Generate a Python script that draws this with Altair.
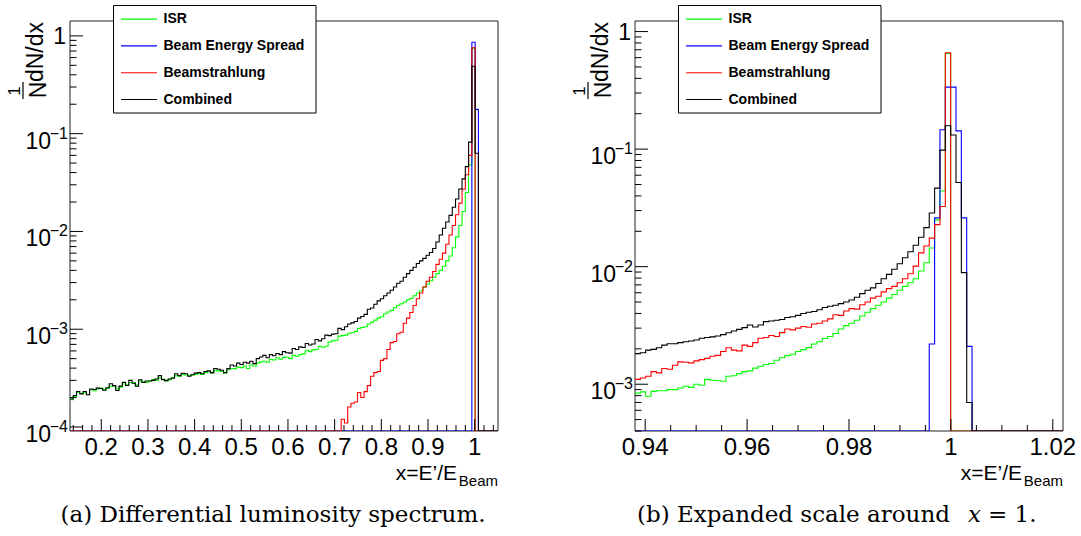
import altair as alt
import pandas as pd

SANS = "Liberation Sans, Arial, Helvetica, sans-serif"
SERIF = "DejaVu Serif"

SERIES = ["ISR", "Beam Energy Spread", "Beamstrahlung", "Combined"]
COLORS = ["#00ff00", "#0000ff", "#ff0000", "#000000"]

# ---------------- Panel (a): bins of width 0.007 from x = 0.133 to 1.05 ----------------
A_X0, A_BW, A_NB = 0.133, 0.007, 131
A_UNIT = 1e-4          # listed values are (1/N) dN per bin, in units of 1e-4
A_XDOM = [0.133, 1.05]
A_YDOM = [0.91e-4, 1.42]

a_isr = [
    1.9, 2.05, 2.25, 2.2, 2.25, 2.15, 2.4, 2.35, 2.45, 2.5,
    2.4, 2.48, 2.6, 2.62, 2.45, 2.55, 2.75, 2.7, 2.85, 2.85,
    2.7, 2.95, 2.9, 2.85, 2.95, 3.05, 3.0, 3.2, 3.1, 2.95,
    3.05, 3.2, 3.35, 3.3, 3.45, 3.4, 3.35, 3.4, 3.45, 3.5,
    3.45, 3.6, 3.65, 3.55, 3.8, 3.75, 3.7, 3.55, 3.85, 3.97,
    3.95, 4.1, 4.05, 4.2, 3.97, 4.3, 4.2, 4.5, 4.64, 4.7,
    4.6, 4.9, 4.85, 5.1, 4.95, 5.15, 5.2, 5.0, 5.4, 5.3,
    5.5, 5.6, 6.1, 5.9, 6.15, 6.2, 6.7, 6.55, 6.7, 7.4,
    7.6, 7.7, 8.5, 8.6, 8.7, 9.1, 9.2, 9.5, 10.2, 10.4,
    10.6, 11.3, 11.8, 12.4, 13.0, 13.4, 14.4, 15.0, 15.6, 16.6,
    17.6, 18.2, 19.0, 20.0, 20.6, 22.0, 23.5, 24.7, 27.0, 29.0,
    31.3, 34.0, 37.0, 40.0, 44.0, 50.0, 56.0, 68.0, 88.0, 115,
    160, 250, 480, 7500, 0,
]
a_bes_start = 123
a_bes = [8600, 1770]
a_bs_start = 83
a_bs = [
    1.2, 1.1, 1.6, 1.75, 1.8, 2.25, 2.0, 2.3, 2.65, 3.3,
    3.6, 3.7, 4.8, 5.0, 6.2, 7.3, 7.5, 9.0, 9.3, 11.5,
    13.0, 14.8, 17.5, 20.5, 23.5, 27, 31, 34, 39, 46,
    52, 60, 74, 92, 115, 148, 195, 270, 380, 600,
    7550, 0,
]
a_comb = [
    1.93, 2.1, 2.31, 2.18, 2.31, 2.14, 2.45, 2.42, 2.5, 2.48,
    2.38, 2.52, 2.77, 2.65, 2.36, 2.62, 2.86, 2.66, 3.0, 2.8,
    2.62, 3.04, 2.85, 2.95, 2.95, 3.0, 3.1, 3.35, 3.05, 2.98,
    3.1, 3.15, 3.5, 3.35, 3.55, 3.5, 3.3, 3.42, 3.56, 3.6,
    3.5, 3.7, 3.75, 3.6, 3.97, 3.9, 3.8, 3.6, 3.95, 4.3,
    4.2, 4.5, 4.35, 4.6, 4.5, 4.7, 4.45, 5.0, 5.2, 5.4,
    5.1, 5.5, 5.35, 5.65, 5.5, 5.9, 5.75, 5.7, 6.35, 6.2,
    6.6, 6.5, 7.15, 6.9, 7.05, 7.85, 7.6, 8.0, 8.7, 8.6,
    8.9, 9.0, 10.2, 9.9, 10.6, 11.3, 11.6, 12.0, 13.0, 13.5,
    14.2, 16.0, 16.5, 18.0, 19.5, 20.5, 22.0, 23.5, 25.0, 27.0,
    29.5, 31.0, 34.0, 37.0, 40.0, 43.0, 47.0, 50.0, 53.0, 57.0,
    61.0, 67.0, 78.0, 92.0, 108, 125, 146, 177, 215, 272,
    345, 460, 820, 4900, 630,
]

A_XMAJOR = [0.2, 0.3, 0.4, 0.5, 0.6, 0.7, 0.8, 0.9, 1.0]
A_XLABELS = ["0.2", "0.3", "0.4", "0.5", "0.6", "0.7", "0.8", "0.9", "1"]
A_YDEC = [1e-4, 1e-3, 1e-2, 1e-1]
A_YEXP = ["\u22124", "\u22123", "\u22122", "\u22121"]

# ---------------- Panel (b): bins of width 0.00105 from x = 0.938 to 1.022 ----------------
B_X0, B_BW, B_NB = 0.938, 0.00105, 80
B_UNIT = 1e-3          # listed values are (1/N) dN per bin, in units of 1e-3
B_XDOM = [0.938, 1.022]
B_YDOM = [4.0e-4, 1.23]

b_isr = [
    0.84, 0.86, 0.79, 0.87, 0.88, 0.88, 0.9, 0.9, 0.93, 0.96,
    0.94, 1.0, 0.98, 1.1, 1.08, 1.07, 1.06, 1.17, 1.18, 1.23,
    1.28, 1.3, 1.37, 1.42, 1.47, 1.5, 1.6, 1.68, 1.75, 1.8,
    1.9, 1.97, 2.05, 2.2, 2.3, 2.45, 2.55, 2.7, 2.95, 3.15,
    3.3, 3.5, 3.8, 4.1, 4.4, 4.7, 5.0, 5.4, 5.8, 6.3,
    6.8, 7.3, 7.9, 9.2, 10.8, 14.4, 25, 44, 650,
]
b_bes_start = 55
b_bes = [2.2, 26, 146, 337, 337, 143, 26, 2.1]
b_bs = [
    1.10, 1.13, 1.17, 1.28, 1.25, 1.36, 1.34, 1.45, 1.55, 1.54,
    1.52, 1.58, 1.62, 1.66, 1.73, 1.76, 1.9, 2.04, 1.95, 1.92,
    2.15, 2.1, 2.26, 2.46, 2.5, 2.6, 2.55, 2.75, 2.95, 2.9,
    3.0, 3.1, 3.05, 3.25, 3.3, 3.45, 3.6, 3.9, 3.85, 4.2,
    4.4, 4.35, 4.75, 5.0, 5.4, 5.6, 6.1, 6.5, 6.8, 7.3,
    7.9, 8.7, 10.1, 13.1, 15.0, 17.5, 22.8, 32.5, 660,
]
b_comb = [
    1.82, 1.85, 1.95, 1.98, 2.04, 2.15, 2.21, 2.21, 2.26, 2.3,
    2.33, 2.38, 2.46, 2.5, 2.53, 2.57, 2.64, 2.74, 2.84, 2.93,
    3.03, 3.19, 3.07, 3.19, 3.41, 3.45, 3.5, 3.55, 3.7, 3.75,
    3.85, 4.0, 4.1, 4.15, 4.3, 4.5, 4.6, 4.7, 4.85, 5.0,
    5.2, 5.5, 5.9, 6.3, 6.6, 7.2, 7.9, 8.6, 9.5, 10.6,
    11.9, 13.4, 15.2, 17.8, 21.5, 28.6, 46.6, 98, 158, 132,
    52, 8.9, 0.7,
]

B_XMAJOR = [0.94, 0.96, 0.98, 1.0, 1.02]
B_XLABELS = ["0.94", "0.96", "0.98", "1", "1.02"]
B_YDEC = [1e-3, 1e-2, 1e-1]
B_YEXP = ["\u22123", "\u22122", "\u22121"]

W, H = 428, 410
ONE = pd.DataFrame({"d": [0]})


def hist_df(x0, bw, nb, unit, start, vals, floor):
    full = [0.0] * nb
    for i, v in enumerate(vals):
        full[start + i] = v * unit
    xs = [x0 + bw * i for i in range(nb + 1)]
    ys = [v if v > 0 else floor for v in full]
    ys.append(ys[-1])
    return pd.DataFrame({"x": xs, "y": ys})


def build_panel(x0, bw, nb, unit, series, xdom, ydom, xmajor, xlabels, xminor,
                ydec, yexp, yminor, caption, left_marker):
    xs = alt.Scale(domain=xdom, nice=False, zero=False)
    ys = alt.Scale(type="log", domain=ydom, nice=False)

    def X(f):
        return alt.X(f, type="quantitative", scale=xs, axis=None)

    def Y(f):
        return alt.Y(f, type="quantitative", scale=ys, axis=None)

    layers = []
    # frame
    layers.append(alt.Chart(ONE).mark_rect(filled=False, color="#222222", strokeWidth=1).encode(
        x=alt.value(0), x2=alt.value(W), y=alt.value(0), y2=alt.value(H)))
    # histograms
    for (start, vals), col in zip(series, COLORS):
        df = hist_df(x0, bw, nb, unit, start, vals, ydom[0])
        layers.append(alt.Chart(df).mark_line(
            interpolate="step-after", clip=True, color=col, strokeWidth=1.1).encode(
            x=X("x"), y=Y("y")))
    # ticks (drawn inside, ROOT style)
    layers.append(alt.Chart(pd.DataFrame({"v": xmajor})).mark_rule(color="black", strokeWidth=1).encode(
        x=X("v"), y=alt.value(H), y2=alt.value(H - 12)))
    layers.append(alt.Chart(pd.DataFrame({"v": xminor})).mark_rule(color="black", strokeWidth=1).encode(
        x=X("v"), y=alt.value(H), y2=alt.value(H - 6)))
    layers.append(alt.Chart(pd.DataFrame({"v": ydec + [1.0]})).mark_rule(color="black", strokeWidth=1).encode(
        y=Y("v"), x=alt.value(0), x2=alt.value(13)))
    layers.append(alt.Chart(pd.DataFrame({"v": yminor})).mark_rule(color="black", strokeWidth=1).encode(
        y=Y("v"), x=alt.value(0), x2=alt.value(6.5)))
    # x tick labels
    layers.append(alt.Chart(pd.DataFrame({"v": xmajor, "lab": xlabels})).mark_text(
        font=SANS, fontSize=24, align="center", baseline="alphabetic").encode(
        x=X("v"), y=alt.value(434), text="lab:N"))
    # y tick labels: 10 with superscript exponent, and "1"
    ydf = pd.DataFrame({"v": ydec, "base": ["10"] * len(ydec), "exp": yexp})
    layers.append(alt.Chart(ydf).mark_text(
        font=SANS, fontSize=23, align="right", baseline="alphabetic", dy=15).encode(
        x=alt.value(-19), y=Y("v"), text="base:N"))
    layers.append(alt.Chart(ydf).mark_text(
        font=SANS, fontSize=16, align="right", baseline="alphabetic", dy=5).encode(
        x=alt.value(-2), y=Y("v"), text="exp:N"))
    layers.append(alt.Chart(pd.DataFrame({"v": [1.0], "lab": ["1"]})).mark_text(
        font=SANS, fontSize=23, align="right", baseline="alphabetic", dy=8).encode(
        x=alt.value(-4), y=Y("v"), text="lab:N"))
    # y title  (1/N dN/dx, rotated)
    layers.append(alt.Chart(ONE).mark_text(
        font=SANS, fontSize=23, angle=270, align="right", baseline="alphabetic", text="dN/dx").encode(
        x=alt.value(-27), y=alt.value(1)))
    layers.append(alt.Chart(ONE).mark_text(
        font=SANS, fontSize=23, angle=270, align="center", baseline="alphabetic", text="N").encode(
        x=alt.value(-24), y=alt.value(69)))
    layers.append(alt.Chart(ONE).mark_text(
        font=SANS, fontSize=17, angle=270, align="center", baseline="alphabetic", text="1").encode(
        x=alt.value(-50), y=alt.value(70)))
    layers.append(alt.Chart(ONE).mark_rule(color="black", strokeWidth=1.2).encode(
        x=alt.value(-47), x2=alt.value(-47), y=alt.value(61), y2=alt.value(78)))
    # x title
    layers.append(alt.Chart(ONE).mark_text(
        font=SANS, fontSize=21, align="right", baseline="alphabetic", text="x=E\u2019/E").encode(
        x=alt.value(W - 41), y=alt.value(459)))
    layers.append(alt.Chart(ONE).mark_text(
        font=SANS, fontSize=15, align="right", baseline="alphabetic", text="Beam").encode(
        x=alt.value(W), y=alt.value(465)))
    # legend
    layers.append(alt.Chart(ONE).mark_rect(fill="white", stroke="black", strokeWidth=1).encode(
        x=alt.value(43.5), x2=alt.value(246), y=alt.value(-15.5), y2=alt.value(92)))
    rows = [-1.9, 24.9, 51.7, 78.5]
    for name, col, ry in zip(SERIES, COLORS, rows):
        layers.append(alt.Chart(ONE).mark_rule(color=col, strokeWidth=1.1).encode(
            x=alt.value(51), x2=alt.value(87), y=alt.value(ry), y2=alt.value(ry)))
        layers.append(alt.Chart(ONE).mark_text(
            font=SANS, fontSize=14, fontWeight="bold", align="left", baseline="middle", text=name).encode(
            x=alt.value(93.5), y=alt.value(ry)))
    # caption
    for txt, cx, align, style in caption:
        layers.append(alt.Chart(ONE).mark_text(
            font=SERIF, fontSize=23, align=align, baseline="alphabetic", fontStyle=style, text=txt).encode(
            x=alt.value(cx), y=alt.value(501)))
    # invisible bounds marker (white on white) fixing the page layout
    mx = -69.5 if left_marker else W + 17.5
    layers.append(alt.Chart(ONE).mark_rule(color="white", strokeWidth=1).encode(
        x=alt.value(mx), x2=alt.value(mx), y=alt.value(-20.5), y2=alt.value(514.5)))

    return alt.layer(*layers).properties(width=W, height=H)


a_xminor = [round(0.14 + 0.02 * i, 3) for i in range(46)]
a_xminor = [v for v in a_xminor if abs(v * 10 - round(v * 10)) > 1e-6]
b_xminor = [round(0.94 + 0.005 * i, 4) for i in range(17)]
b_xminor = [v for v in b_xminor if abs(v * 50 - round(v * 50)) > 1e-6]
a_yminor = [m * 10.0 ** e for e in range(-4, 0) for m in range(2, 10)]
b_yminor = [m * 1e-4 for m in range(4, 10)] + [m * 10.0 ** e for e in range(-3, 0) for m in range(2, 10)]

panel_a = build_panel(
    A_X0, A_BW, A_NB, A_UNIT,
    [(0, a_isr), (a_bes_start, a_bes), (a_bs_start, a_bs), (0, a_comb)],
    A_XDOM, A_YDOM, A_XMAJOR, A_XLABELS, a_xminor, A_YDEC, A_YEXP, a_yminor,
    [("(a) Differential luminosity spectrum.", 203, "center", "normal")], True)

panel_b = build_panel(
    B_X0, B_BW, B_NB, B_UNIT,
    [(0, b_isr), (b_bes_start, b_bes), (0, b_bs), (0, b_comb)],
    B_XDOM, B_YDOM, B_XMAJOR, B_XLABELS, b_xminor, B_YDEC, B_YEXP, b_yminor,
    [("(b) Expanded scale around", 2, "left", "normal"),
     ("x", 333, "left", "italic"),
     ("= 1.", 353, "left", "normal")], False)

chart = alt.hconcat(panel_a, panel_b, spacing=137, bounds="flush", padding=0,
                    background="white").configure_view(strokeWidth=0)

chart.save("out.html", embed_options={"renderer": "svg", "actions": False})
